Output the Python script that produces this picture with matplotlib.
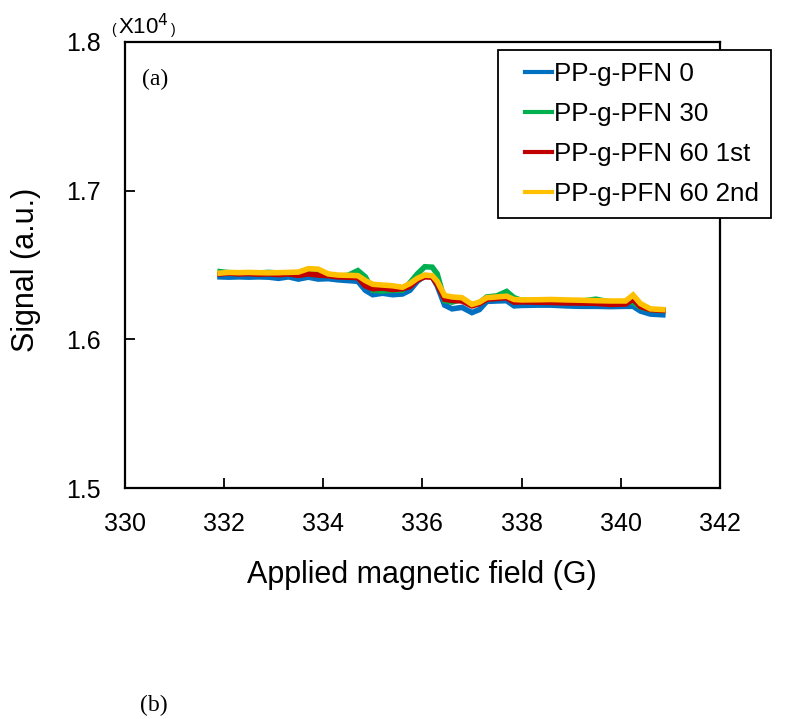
import matplotlib
matplotlib.use("Agg")
import matplotlib.pyplot as plt
from matplotlib.legend_handler import HandlerLine2D

# === Data (signal in units of 10^4) ===
field = [331.92, 332.1, 332.3, 332.5, 332.7, 332.9, 333.1, 333.3, 333.5, 333.7,
         333.9, 334.1, 334.3, 334.5, 334.7, 334.85, 335.0, 335.2, 335.4, 335.6,
         335.75, 335.9, 336.05, 336.2, 336.3, 336.45, 336.6, 336.8, 337.0, 337.15,
         337.3, 337.5, 337.7, 337.85, 338.0, 338.3, 338.6, 338.9, 339.2, 339.5,
         339.8, 340.1, 340.25, 340.4, 340.6, 340.85]

pfn_0 = [1.6420, 1.6418, 1.6420, 1.6418, 1.6420, 1.6418, 1.6410, 1.6420, 1.6405, 1.6418,
         1.6405, 1.6408, 1.6400, 1.6395, 1.6390, 1.6330, 1.6300, 1.6310, 1.6300, 1.6305,
         1.6330, 1.6390, 1.6428, 1.6420, 1.6360, 1.6230, 1.6205, 1.6215, 1.6180, 1.6200,
         1.6255, 1.6258, 1.6260, 1.6225, 1.6228, 1.6230, 1.6230, 1.6225, 1.6222, 1.6222,
         1.6220, 1.6222, 1.6222, 1.6190, 1.6170, 1.6165]

pfn_30 = [1.6455, 1.6448, 1.6446, 1.6447, 1.6446, 1.6450, 1.6446, 1.6445, 1.6448, 1.6450,
          1.6445, 1.6430, 1.6425, 1.6430, 1.6462, 1.6420, 1.6330, 1.6325, 1.6330, 1.6330,
          1.6380, 1.6440, 1.6488, 1.6485, 1.6440, 1.6260, 1.6250, 1.6270, 1.6230, 1.6245,
          1.6285, 1.6292, 1.6322, 1.6280, 1.6262, 1.6260, 1.6262, 1.6258, 1.6256, 1.6270,
          1.6250, 1.6248, 1.6250, 1.6215, 1.6200, 1.6195]

pfn_60_1st = [1.6440, 1.6445, 1.6440, 1.6442, 1.6438, 1.6440, 1.6435, 1.6440, 1.6430, 1.6440,
              1.6432, 1.6428, 1.6420, 1.6418, 1.6415, 1.6360, 1.6340, 1.6345, 1.6335, 1.6340,
              1.6355, 1.6400, 1.6420, 1.6418, 1.6370, 1.6270, 1.6262, 1.6258, 1.6225, 1.6240,
              1.6270, 1.6275, 1.6280, 1.6250, 1.6252, 1.6250, 1.6248, 1.6245, 1.6244, 1.6242,
              1.6235, 1.6238, 1.6270, 1.6220, 1.6200, 1.6195]

pfn_60_2nd = [1.6445, 1.6450, 1.6448, 1.6450, 1.6448, 1.6447, 1.6448, 1.6450, 1.6452, 1.6475,
              1.6472, 1.6440, 1.6432, 1.6430, 1.6428, 1.6395, 1.6370, 1.6365, 1.6360, 1.6350,
              1.6375, 1.6410, 1.6432, 1.6428, 1.6390, 1.6295, 1.6285, 1.6280, 1.6235, 1.6250,
              1.6280, 1.6285, 1.6290, 1.6268, 1.6265, 1.6266, 1.6268, 1.6265, 1.6263, 1.6260,
              1.6258, 1.6258, 1.6298, 1.6240, 1.6205, 1.6200]

labels = ["PP-g-PFN 0", "PP-g-PFN 30", "PP-g-PFN 60 1st", "PP-g-PFN 60 2nd"]
colors = ["#0070C0", "#00B050", "#C00000", "#FFC000"]
x_ticks = [330, 332, 334, 336, 338, 340, 342]
y_ticks = [1.5, 1.6, 1.7, 1.8]

plt.rcParams['font.family'] = ['Liberation Sans', 'DejaVu Sans']


# legend line that only fills the right part of its handle box
class ShortLine(HandlerLine2D):
    def create_artists(self, legend, orig_handle, xdescent, ydescent,
                       width, height, fontsize, trans):
        arts = super().create_artists(legend, orig_handle, xdescent, ydescent,
                                      width, height, fontsize, trans)
        for a in arts:
            xd = list(a.get_xdata())
            n = len(xd)
            if n >= 2:
                start = xd[0] + 0.36 * (xd[-1] - xd[0])
                a.set_xdata([start + (xd[-1] - start) * i / (n - 1) for i in range(n)])
            a.set_linewidth(3)
        return arts


# === Plotting ===
fig = plt.figure(figsize=(7.85, 7.19), dpi=100)
ax = fig.add_axes([0.159, 0.321, 0.758, 0.621])

lines = []
for ys, lab, c in zip([pfn_0, pfn_30, pfn_60_1st, pfn_60_2nd], labels, colors):
    ln, = ax.plot(field, ys, color=c, linewidth=4, label=lab, solid_joinstyle='miter')
    lines.append(ln)

ax.set_xlim(330, 342)
ax.set_ylim(1.5, 1.8)
ax.set_xticks(x_ticks)
ax.set_yticks(y_ticks)
ax.set_xticklabels([str(t) for t in x_ticks])
ax.set_yticklabels([f"{t:.1f}" for t in y_ticks])
ax.tick_params(direction='in', length=7, width=1.3, labelsize=18, pad=17)
for s in ax.spines.values():
    s.set_linewidth(1.6)

# axis titles
fig.text(422 / 785, 1 - 575 / 719, "Applied magnetic field (G)", fontsize=22,
         ha='center', va='center')
fig.text(26 / 785, 1 - 270 / 719, "Signal (a.u.)", fontsize=22, rotation=90,
         ha='center', va='center')

leg = ax.legend(loc='upper left', bbox_to_anchor=(498 / 785, 1 - 50 / 719),
                bbox_transform=fig.transFigure, fontsize=18.7,
                handler_map={ln: ShortLine() for ln in lines},
                handlelength=1.62, handletextpad=0.1, labelspacing=0.62,
                borderpad=0.45, borderaxespad=0, fancybox=False, framealpha=1,
                edgecolor='black')
leg.get_frame().set_linewidth(1.3)

# multiplier note
fig.text(111 / 785, 1 - 34 / 719, "(", fontsize=10, ha='left', va='baseline')
fig.text(118 / 785, 1 - 34 / 719, "X10$^{4}$", fontsize=16, ha='left', va='baseline')
fig.text(171 / 785, 1 - 34 / 719, ")", fontsize=10, ha='left', va='baseline')

fig.text(142 / 785, 1 - 79 / 719, "(a)", fontsize=17, family='Liberation Serif',
         ha='left', va='center')
fig.text(140 / 785, 1 - 705 / 719, "(b)", fontsize=17, family='Liberation Serif',
         ha='left', va='center')

plt.savefig("out.png", dpi=100)
